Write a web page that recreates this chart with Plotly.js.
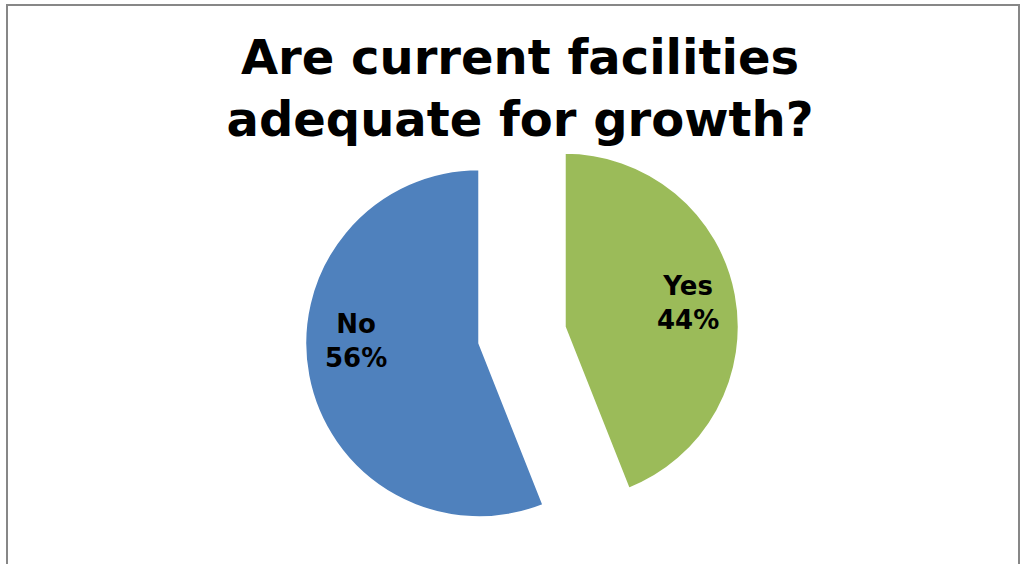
<!DOCTYPE html>
<html>
<head>
<meta charset="utf-8">
<script src="https://cdn.plot.ly/plotly-3.0.1.min.js"></script>
<style>html,body{margin:0;padding:0;background:#fff;}</style>
</head>
<body>
<div id="chart" style="width:1026px;height:564px;"></div>
<script>
const labels = ['Yes', 'No'];
const values = [44, 56];
const colors = ['#9BBB59', '#4F81BD'];
const titleText = 'Are current facilities<br>adequate for growth?';

// layout / style settings
const W = 1026, H = 564;
const dom = { x0: 304.5, x1: 739.5, y0: 117.5, y1: 552.5 }; // pixels
const PULL = 0.25;
const labelRadius = 0.72;          // fraction of radius from slice tip
const labelYShift = { No: 26, Yes: 0 };

const trace = {
  type: 'pie',
  labels: labels,
  values: values,
  sort: false,
  direction: 'clockwise',
  rotation: 0,
  pull: labels.map(() => PULL),
  marker: { colors: colors, line: { color: '#ffffff', width: 2 } },
  textinfo: 'none',
  hoverinfo: 'label+percent',
  domain: { x: [dom.x0 / W, dom.x1 / W], y: [1 - dom.y1 / H, 1 - dom.y0 / H] }
};

// label annotations placed along each slice's mid-angle
const total = values.reduce((a, b) => a + b, 0);
const cx = (dom.x0 + dom.x1) / 2, cy = (dom.y0 + dom.y1) / 2;
const r = (dom.x1 - dom.x0) / (2 * (1 + PULL));
let cum = 0;
const annotations = values.map((v, i) => {
  const mid = (cum + v / 2) / total * 2 * Math.PI;
  cum += v;
  const sx = Math.sin(mid), sy = -Math.cos(mid);
  const px = cx + (PULL + labelRadius) * r * sx;
  const py = cy + (PULL + labelRadius) * r * sy;
  return {
    xref: 'paper', yref: 'paper',
    x: px / W, y: 1 - py / H,
    xanchor: 'center', yanchor: 'middle',
    yshift: labelYShift[labels[i]] || 0,
    showarrow: false,
    align: 'center',
    text: labels[i] + '<br>' + Math.round(v / total * 100) + '%',
    font: { family: 'DejaVu Sans', size: 26, color: '#000000', weight: 'bold' }
  };
});

const layout = {
  width: W,
  height: H,
  margin: { l: 0, r: 0, t: 0, b: 0 },
  showlegend: false,
  paper_bgcolor: '#ffffff',
  title: {
    text: titleText,
    x: 520 / W,
    xanchor: 'center',
    y: 1 - 74 / H,
    yanchor: 'top',
    font: { family: 'DejaVu Sans', size: 48, color: '#000000', weight: 'bold' }
  },
  annotations: annotations,
  shapes: [{
    type: 'rect', xref: 'paper', yref: 'paper',
    x0: 7 / W, x1: 1019 / W, y0: -0.05, y1: 1 - 5 / H,
    line: { color: '#878787', width: 2 }, fillcolor: 'rgba(0,0,0,0)'
  }]
};

Plotly.newPlot('chart', [trace], layout, { displayModeBar: false, staticPlot: true });
</script>
</body>
</html>
